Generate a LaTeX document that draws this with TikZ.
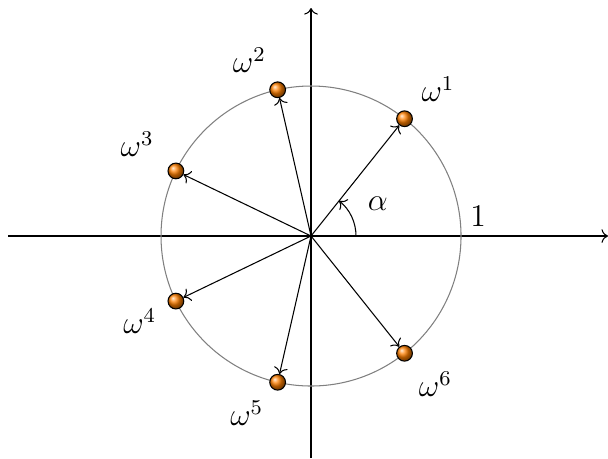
\documentclass[tikz,border=0pt]{standalone}
\usepackage{amsmath}
\usepackage{tikz}
\usetikzlibrary{arrows.meta, positioning, calc}
\tikzset{
	root/.style     ={circle, draw=black, shading=ball, ball color=orange, minimum size=0.21cm, inner sep=0pt},
	rootlabel/.style={inner sep=2pt},
	vec/.style      ={->},
	axis/.style     ={->},
}
\begin{document}
\begin{tikzpicture}[font=\large]
	\useasboundingbox (-4.147,-2.96) rectangle (3.96,3.147);
	\draw[axis] (-4.04,0) -- (3.96,0);
	\draw[axis] (0,-2.96) -- (0,3.04);
	\draw[gray] (0,0) circle (2);
	\coordinate (o) at (0,0);
	\foreach \k/\pos/\dx/\dy in {1/above right/2pt/2pt, 2/above left/0pt/2pt, 3/above left/-4pt/1pt,
			4/below left/-3pt/1.5pt, 5/below left/-1pt/-2.5pt, 6/below right/1pt/-2.5pt} {
		\node[root] (w\k) at ({\k*360/7}:2) {};
		\draw[vec] (o) -- (w\k);
		\node[rootlabel, \pos=0pt of w\k, xshift=\dx, yshift=\dy] (l\k) {$\omega^{\k}$};
	}
	\draw[vec] (0.6,0) arc[start angle=0, end angle=360/7, radius=0.6];
	\node (alpha) at (0.89,0.43) {$\alpha$};
	\node[above right] (one) at (2,0) {$1$};
\end{tikzpicture}
\end{document}
